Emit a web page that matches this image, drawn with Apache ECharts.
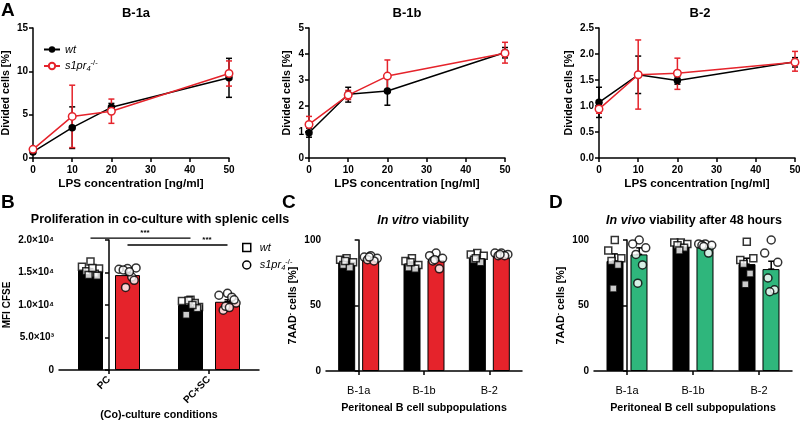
<!DOCTYPE html>
<html><head><meta charset="utf-8">
<script src="https://cdn.jsdelivr.net/npm/echarts@6/dist/echarts.min.js"></script>
<style>html,body{margin:0;padding:0;background:#fff}#c{width:800px;height:423px}</style>
</head><body><div id="c"></div>
<script>
// ---------- Panel A data ----------
const lpsConc = [0, 10, 20, 50];
const b1aWt = [0.7, 3.5, 5.85, 9.25];
const b1aWtLo = [0.5, 1.1, 5.4, 7.0];
const b1aWtHi = [0.9, 5.9, 6.3, 11.5];
const b1aKo = [1.0, 4.8, 5.4, 9.75];
const b1aKoLo = [0.8, 1.2, 4.0, 8.3];
const b1aKoHi = [1.2, 8.4, 6.8, 11.2];

const b1bWt = [0.97, 2.45, 2.58, 4.06];
const b1bWtLo = [0.8, 2.15, 2.03, 3.85];
const b1bWtHi = [1.15, 2.72, 3.1, 4.25];
const b1bKo = [1.29, 2.42, 3.15, 4.03];
const b1bKoLo = [1.0, 2.25, 2.55, 3.65];
const b1bKoHi = [1.6, 2.6, 3.77, 4.45];

const b2Wt = [1.07, 1.6, 1.49, 1.85];
const b2WtLo = [0.78, 1.24, 1.42, 1.75];
const b2WtHi = [1.36, 1.96, 1.56, 1.93];
const b2Ko = [0.94, 1.6, 1.63, 1.84];
const b2KoLo = [0.86, 0.94, 1.32, 1.67];
const b2KoHi = [1.02, 2.27, 1.92, 2.05];

const ticksA3 = ['0.0', '0.5', '1.0', '1.5', '2.0', '2.5'];

// ---------- Panel B data ----------
const condCats = ['PC', 'PC+SC'];
const bWtMean = [15300, 10000];
const bWtSem = [300, 260];
const bKoMean = [14600, 10500];
const bKoSem = [350, 300];
const bWtPts = [[16700, 15900, 15600, 15200, 14800, 14600, 14500, 15700],
                [10800, 10600, 9700, 8500, 10300, 10700, 9500, 10000]];
const bKoPts = [[15600, 15500, 15700, 15400, 14300, 12700, 13800, 15100],
                [11800, 11500, 10300, 9200, 11200, 9800, 10800, 9600]];
const ticksB = ['0', '5.0×10³', '1.0×10⁴', '1.5×10⁴', '2.0×10⁴'];
const sigB = [[0, 1, 20300, 0.36, '***'], [0, 1, 19230, 0.98, '***']]; // [cat from, cat to, y, star x, label]

// ---------- Panel C data ----------
const subCats = ['B-1a', 'B-1b', 'B-2'];
const cWtMean = [83.4, 81.4, 86.0];
const cWtSem = [1.2, 1.3, 1.1];
const cKoMean = [86.5, 84.7, 89.0];
const cKoSem = [0.7, 1.6, 0.4];
const cWtPts = [[86, 85, 83, 81, 79, 84], [86, 84, 81, 79, 78, 83], [90, 89, 88, 85, 83, 86]];
const cKoPts = [[88, 87, 86, 85, 84, 87], [90, 88, 86, 84, 78, 85], [90, 90, 89, 88, 88, 89]];

// ---------- Panel D data ----------
const dWtMean = [84.0, 95.7, 81.6];
const dWtSem = [5.4, 1.2, 4.5];
const dKoMean = [89.0, 95.0, 77.8];
const dKoSem = [5.0, 1.3, 6.0];
const dWtPts = [[100, 92, 86, 84, 81, 63], [98, 98, 97, 96, 94, 92], [98.7, 84.7, 86, 81.6, 74.5, 66.3]];
const dKoPts = [[100, 97, 94, 89, 81, 67], [97, 97, 96, 96, 90, 95], [100, 90, 83, 71, 62, 60.5]];

// ---------- styles / layout ----------
const FONT = 'Arial, "Liberation Sans", Helvetica, sans-serif';
const RED = '#e5232b';
const GREEN = '#2fb67c';
const BLACK = '#000';
const axisLine = { show: true, lineStyle: { color: BLACK, width: 1.5 } };
const axisTick = { show: true, length: 4, lineStyle: { color: BLACK, width: 1.5 } };
const boldLbl = { color: BLACK, fontFamily: FONT, fontWeight: 'bold', fontSize: 10 };
const nameStyle = { color: BLACK, fontFamily: FONT, fontWeight: 'bold', fontSize: 10.7, lineHeight: 14,
  rich: { sup: { fontSize: 7, fontWeight: 'bold', verticalAlign: 'top', lineHeight: 14, fontFamily: FONT } } };
const OFF = 0.185; // group offset in category units
const jitter = [0, -0.9, 0.9, -0.45, 0.45, -0.2, 0.7, 0.2]; // horizontal spread pattern of dots

const grids = [
  { left: 33, top: 28, width: 196, height: 130 },
  { left: 309, top: 28, width: 196, height: 130 },
  { left: 599, top: 28, width: 196, height: 130 },
  { left: 59, top: 240, width: 200, height: 130 },
  { left: 326, top: 240, width: 196, height: 131 },
  { left: 594, top: 240, width: 198, height: 131 }
].map(g => Object.assign({ outerBoundsMode: 'none', containLabel: false }, g));

function xValA(gi) {
  return { type: 'value', gridIndex: gi, min: 0, max: 50, interval: 10,
    axisLine, axisTick, splitLine: { show: false },
    axisLabel: Object.assign({ margin: 7 }, boldLbl),
    name: 'LPS concentration [ng/ml]', nameLocation: 'middle', nameGap: 19,
    nameTextStyle: Object.assign({}, nameStyle, { fontSize: 11.7 }) };
}
function xCat(gi, data, rotate, name, gap, lblStyle) {
  return { type: 'category', gridIndex: gi, data,
    axisLine, axisTick: Object.assign({ alignWithLabel: true }, axisTick),
    axisLabel: Object.assign({ rotate, margin: 8, interval: 0 }, lblStyle),
    name, nameLocation: 'middle', nameGap: gap, nameTextStyle: nameStyle };
}
function xHidden(gi, n) {
  return { type: 'value', gridIndex: gi, min: -0.5, max: n - 0.5, show: false };
}
function yVal(gi, max, interval, name, gap, fmt, lbl) {
  return { type: 'value', gridIndex: gi, min: 0, max, interval,
    axisLine, axisTick, splitLine: { show: false },
    axisLabel: Object.assign({ margin: 5, formatter: fmt }, boldLbl, lbl || {}),
    name, nameLocation: 'middle', nameGap: gap, nameTextStyle: nameStyle };
}

const catLbl = { color: BLACK, fontFamily: FONT, fontSize: 11, margin: 14 };
const xAxis = [
  xValA(0), xValA(1), xValA(2),
  xCat(3, condCats, 45, '(Co)-culture conditions', 34, boldLbl), xHidden(3, 2),
  xCat(4, subCats, 0, 'Peritoneal B cell subpopulations', 30, catLbl), xHidden(4, 3),
  xCat(5, subCats, 0, 'Peritoneal B cell subpopulations', 30, catLbl), xHidden(5, 3)
];
const yAxis = [
  yVal(0, 15, 5, 'Divided cells [%]', 20),
  yVal(1, 5, 1, 'Divided cells [%]', 13),
  yVal(2, 2.5, 0.5, 'Divided cells [%]', 21, (v) => ticksA3[Math.round(v / 0.5)]),
  yVal(3, 20000, 5000, 'MFI CFSE', 45, (v) => ticksB[Math.round(v / 5000)], { fontSize: 10 }),
  yVal(4, 100, 50, '7AAD{sup|-} cells [%]', 23),
  yVal(5, 100, 50, '7AAD{sup|-} cells [%]', 22)
];
yAxis[3].nameTextStyle = Object.assign({}, nameStyle, { fontSize: 10 });

// error bar custom series
function errSeries(xi, yi, data, color, cap, z) {
  return { type: 'custom', xAxisIndex: xi, yAxisIndex: yi, data, z: z || 3, silent: true,
    clip: false,
    renderItem(params, api) {
      const x = api.value(0), lo = api.value(1), hi = api.value(2);
      const a = api.coord([x, hi]), b = api.coord([x, lo]);
      const st = { stroke: color, lineWidth: 1.5 };
      const ch = [{ type: 'line', shape: { x1: a[0], y1: a[1], x2: b[0], y2: b[1] }, style: st },
        { type: 'line', shape: { x1: a[0] - cap, y1: a[1], x2: a[0] + cap, y2: a[1] }, style: st }];
      if (lo !== hi) ch.push({ type: 'line', shape: { x1: b[0] - cap, y1: b[1], x2: b[0] + cap, y2: b[1] }, style: st });
      return { type: 'group', children: ch };
    } };
}
function errData(xs, lo, hi) { return xs.map((x, i) => [x, lo[i], hi[i]]); }

function lineSeries(name, xi, vals, color, hollow) {
  return { type: 'line', name, xAxisIndex: xi, yAxisIndex: xi,
    data: lpsConc.map((x, i) => [x, vals[i]]), z: 5, silent: true,
    symbol: 'circle', symbolSize: 7.5,
    lineStyle: { color, width: 1.5 },
    itemStyle: hollow ? { color: '#fff', borderColor: color, borderWidth: 1.5 } : { color, borderColor: color, borderWidth: 0 } };
}

const series = [];
const aSets = [
  [b1aWt, b1aWtLo, b1aWtHi, b1aKo, b1aKoLo, b1aKoHi],
  [b1bWt, b1bWtLo, b1bWtHi, b1bKo, b1bKoLo, b1bKoHi],
  [b2Wt, b2WtLo, b2WtHi, b2Ko, b2KoLo, b2KoHi]
];
aSets.forEach((s, i) => {
  series.push(lineSeries('wt', i, s[0], BLACK, false));
  series.push(lineSeries('s1pr4', i, s[3], RED, true));
});
aSets.forEach((s, i) => {
  series.push(errSeries(i, i, errData(lpsConc, s[1], s[2]), BLACK, 3, 4));
  series.push(errSeries(i, i, errData(lpsConc, s[4], s[5]), RED, 3, 4));
});

// bar panels
function barPanel(catX, hidX, yi, wtMean, wtSem, koMean, koSem, wtPts, koPts, koColor, barW, gap, spread) {
  series.push({ type: 'bar', name: 'wt bars', xAxisIndex: catX, yAxisIndex: yi, data: wtMean, barWidth: barW,
    barGap: gap, itemStyle: { color: BLACK, borderColor: BLACK, borderWidth: 1 }, silent: true, z: 2 });
  series.push({ type: 'bar', name: 'ko bars', xAxisIndex: catX, yAxisIndex: yi, data: koMean, barWidth: barW,
    barGap: gap, itemStyle: { color: koColor, borderColor: BLACK, borderWidth: 1 }, silent: true, z: 2 });
  series.push(errSeries(hidX, yi, wtMean.map((m, c) => [c - OFF, m, m + wtSem[c]]), BLACK, 3, 3));
  series.push(errSeries(hidX, yi, koMean.map((m, c) => [c + OFF, m, m + koSem[c]]), BLACK, 3, 3));
  const pts = (arr, sign) => {
    const out = [];
    arr.forEach((vals, c) => {
      vals.forEach((v, k) => out.push([c + sign * OFF + jitter[k % jitter.length] * spread, v]));
    });
    return out;
  };
  series.push({ type: 'scatter', name: 'wt', xAxisIndex: hidX, yAxisIndex: yi, data: pts(wtPts, -1),
    symbol: 'rect', symbolSize: 7, itemStyle: { color: '#fff', borderColor: BLACK, borderWidth: 1.5 }, z: 6, silent: true });
  series.push({ type: 'scatter', name: 's1pr4', xAxisIndex: hidX, yAxisIndex: yi, data: pts(koPts, 1),
    symbol: 'circle', symbolSize: 8, itemStyle: { color: '#fff', borderColor: BLACK, borderWidth: 1.5 }, z: 6, silent: true });
}
barPanel(3, 4, 3, bWtMean, bWtSem, bKoMean, bKoSem, bWtPts, bKoPts, RED, 25, '48%', 0.095);
barPanel(5, 6, 4, cWtMean, cWtSem, cKoMean, cKoSem, cWtPts, cKoPts, RED, 17, '41%', 0.11);
barPanel(7, 8, 5, dWtMean, dWtSem, dKoMean, dKoSem, dWtPts, dKoPts, GREEN, 17, '41%', 0.11);

// significance lines in B
series.push({ type: 'custom', xAxisIndex: 4, yAxisIndex: 3, clip: false, silent: true, z: 7,
  data: sigB.map((s, i) => [s[0] + (i === 0 ? -OFF : OFF), s[1] + (i === 0 ? -OFF : OFF), s[2], s[3]]),
  renderItem(params, api) {
    const a = api.coord([api.value(0), api.value(2)]);
    const b = api.coord([api.value(1), api.value(2)]);
    const t = api.coord([api.value(3), api.value(2)]);
    return { type: 'group', children: [
      { type: 'line', shape: { x1: a[0], y1: a[1], x2: b[0], y2: b[1] }, style: { stroke: BLACK, lineWidth: 1.3 } },
      { type: 'text', x: t[0], y: a[1] - 1, style: { text: sigB[params.dataIndex][4], fill: BLACK,
        font: 'bold 8px ' + FONT, align: 'center', verticalAlign: 'bottom' } }
    ] };
  } });

const legendRich = {
  i: { fontStyle: 'italic', fontSize: 11, fontFamily: FONT, lineHeight: 14, color: BLACK },
  sub: { fontStyle: 'italic', fontSize: 7.5, fontFamily: FONT, lineHeight: 14, verticalAlign: 'bottom', color: BLACK },
  sup: { fontSize: 7.5, fontFamily: FONT, lineHeight: 14, verticalAlign: 'top', color: BLACK }
};
const legendFmt = (n) => n === 'wt' ? '{i|wt}' : '{i|s1pr}{sub|4}{sup|-/-}';

const option = {
  animation: false,
  backgroundColor: '#fff',
  grid: grids,
  xAxis, yAxis, series,
  legend: [
    { left: 38, top: 39, orient: 'vertical', itemWidth: 16, itemHeight: 8, itemGap: 4, selectedMode: false,
      data: ['wt', 's1pr4'], formatter: legendFmt, textStyle: { rich: legendRich } },
    { left: 237, top: 237, orient: 'vertical', itemWidth: 8, itemHeight: 8, itemGap: 5, selectedMode: false,
      data: [
        { name: 'wt', icon: 'rect', itemStyle: { color: '#fff', borderColor: BLACK, borderWidth: 1.5 } },
        { name: 's1pr4', icon: 'circle', itemStyle: { color: '#fff', borderColor: BLACK, borderWidth: 1.5 } }
      ], formatter: legendFmt, textStyle: { rich: legendRich, padding: [0, 0, 0, 4] } }
  ],
  graphic: [
    { type: 'text', left: 1, top: 1, style: { text: 'A', font: 'bold 19px ' + FONT, fill: BLACK } },
    { type: 'text', left: 1, top: 193, style: { text: 'B', font: 'bold 19px ' + FONT, fill: BLACK } },
    { type: 'text', left: 282, top: 193, style: { text: 'C', font: 'bold 19px ' + FONT, fill: BLACK } },
    { type: 'text', left: 549, top: 193, style: { text: 'D', font: 'bold 19px ' + FONT, fill: BLACK } },
    { type: 'text', x: 136, y: 13, style: { text: 'B-1a', font: 'bold 13px ' + FONT, fill: BLACK, align: 'center', verticalAlign: 'middle' } },
    { type: 'text', x: 407, y: 13, style: { text: 'B-1b', font: 'bold 13px ' + FONT, fill: BLACK, align: 'center', verticalAlign: 'middle' } },
    { type: 'text', x: 700, y: 13, style: { text: 'B-2', font: 'bold 13px ' + FONT, fill: BLACK, align: 'center', verticalAlign: 'middle' } },
    { type: 'text', x: 160, y: 220, style: { text: 'Proliferation in co-culture with splenic cells', font: 'bold 12.5px ' + FONT, fill: BLACK, align: 'center', verticalAlign: 'middle' } },
    { type: 'text', x: 423, y: 221, style: { text: '{i|In vitro} viability', font: 'bold 12.5px ' + FONT, fill: BLACK, align: 'center', verticalAlign: 'middle',
      rich: { i: { fontStyle: 'italic', fontWeight: 'bold', fontSize: 12.5, fontFamily: FONT, fill: BLACK } } } },
    { type: 'text', x: 694, y: 221, style: { text: '{i|In vivo} viability after 48 hours', font: 'bold 12.5px ' + FONT, fill: BLACK, align: 'center', verticalAlign: 'middle',
      rich: { i: { fontStyle: 'italic', fontWeight: 'bold', fontSize: 12.5, fontFamily: FONT, fill: BLACK } } } }
  ]
};
const chart = echarts.init(document.getElementById('c'), null, { renderer: 'canvas' });
chart.setOption(option);
</script></body></html>
